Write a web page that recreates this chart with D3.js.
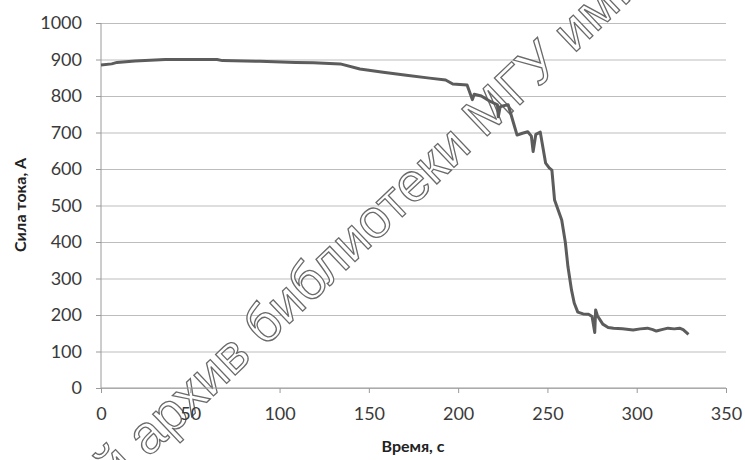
<!DOCTYPE html>
<html>
<head>
<meta charset="utf-8">
<script src="https://cdn.jsdelivr.net/npm/d3@7"></script>
<style>
  body { margin: 0; background: #fff; }
  svg { display: block; }
  .tick text { font-family: Lato, "Open Sans", sans-serif; font-size: 18px; fill: #3a3a3a; }
</style>
</head>
<body>
<svg width="745" height="460"></svg>
<script>
// time, s
const times = [0, 6, 9, 19, 36, 65, 68, 89, 109, 119, 134, 145, 158, 171, 184, 193, 197, 205,
  208, 209, 213, 218, 222, 222.5, 223.5, 225, 228, 231, 233, 236, 239, 241, 242, 243.5, 246,
  249, 251, 252.5, 254, 258, 260, 261.5, 263.5, 265, 267, 270, 273, 275, 276.5, 277, 278,
  281, 284, 287, 292, 298, 302, 306, 309, 311, 314, 317.5, 321, 324, 326, 329];
// current, A
const current = [885, 888, 892, 896, 900, 900, 897, 895, 892, 891, 888, 874, 865, 857, 849, 844, 833, 830,
  790, 805, 800, 785, 776, 743, 770, 773, 776, 726, 693, 698, 702, 690, 648, 695, 701,
  616, 603, 597, 515, 460, 400, 332, 268, 233, 208, 203, 202, 196, 152, 214, 198,
  175, 166, 164, 162, 159, 162, 164, 160, 156, 160, 164, 162, 164, 160, 147];
const xTicks = [0, 50, 100, 150, 200, 250, 300, 350];
const yTicks = [0, 100, 200, 300, 400, 500, 600, 700, 800, 900, 1000];

const svg = d3.select('svg');
const x = d3.scaleLinear().domain([0, 350]).range([101, 726]);
const y = d3.scaleLinear().domain([0, 1000]).range([388, 23]);

// grid
svg.append('g')
  .attr('transform', `translate(${x(0)},0)`)
  .call(d3.axisLeft(y).tickValues(yTicks).tickSize(-(x(350) - x(0))).tickFormat(''))
  .call(g => g.select('.domain').remove())
  .call(g => g.selectAll('line').attr('stroke', '#bdbdbd'));

// watermark
const wm = svg.append('g')
  .attr('transform', 'translate(148,458) rotate(-43.5)')
  .style('font-family', 'Liberation Sans, Arial, sans-serif')
  .style('font-size', '54px')
  .attr('fill', '#fff')
  .attr('stroke', '#6a6a6a')
  .attr('stroke-width', 1.3);
wm.append('text').attr('x', -14).attr('text-anchor', 'end').text('Электронный');
wm.append('text').attr('x', 0).text('архив библиотеки МГУ им. М.В. Ломоносова');

// y axis
svg.append('g')
  .attr('transform', `translate(${x(0)},0)`)
  .call(d3.axisLeft(y).tickValues(yTicks).tickSize(5).tickPadding(14).tickFormat(d3.format('d')))
  .call(g => g.selectAll('line, .domain').attr('stroke', '#9a9a9a'))
  .call(g => g.select('.domain').attr('d', `M0,${y(1000)}V${y(0)}`));

// x axis
svg.append('g')
  .attr('transform', `translate(0,${y(0)})`)
  .call(d3.axisBottom(x).tickValues(xTicks).tickSize(5).tickPadding(14).tickFormat(d3.format('d')))
  .call(g => g.selectAll('line, .domain').attr('stroke', '#9a9a9a'))
  .call(g => g.select('.domain').attr('d', `M${x(0)},0H${x(350)}`));

// line
const line = d3.line().x((d, i) => x(times[i])).y(d => y(d));
svg.append('path')
  .datum(current)
  .attr('d', line)
  .attr('fill', 'none')
  .attr('stroke', '#5c5c5c')
  .attr('stroke-width', 3)
  .attr('stroke-linejoin', 'round');

// titles
svg.append('text')
  .attr('x', 413).attr('y', 452)
  .attr('text-anchor', 'middle')
  .style('font-family', 'Lato, sans-serif').style('font-weight', 'bold').style('font-size', '16px')
  .attr('fill', '#222')
  .text('Время, с');

svg.append('text')
  .attr('transform', 'translate(26,205) rotate(-90)')
  .attr('text-anchor', 'middle')
  .style('font-family', 'Lato, sans-serif').style('font-weight', 'bold').style('font-size', '16px')
  .attr('fill', '#222')
  .text('Сила тока, А');
</script>
</body>
</html>
